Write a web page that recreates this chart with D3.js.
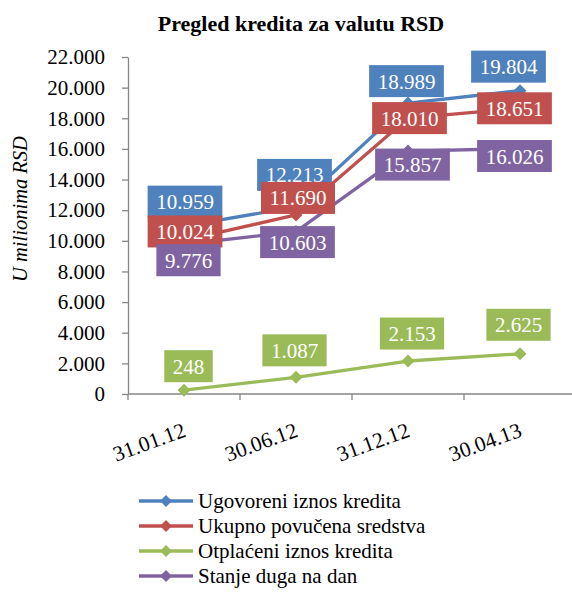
<!DOCTYPE html>
<html>
<head>
<meta charset="utf-8">
<script src="https://cdn.jsdelivr.net/npm/d3@7"></script>
<style>
  svg text { font-family: 'Liberation Serif' !important; }
</style>
</head>
<body style="margin:0">
<svg id="fig" width="572" height="598"></svg>
<script>
// Dates of each snapshot
const categories = ["31.01.12", "30.06.12", "31.12.12", "30.04.13"];

// Series values, in millions of RSD
const ugovoreni = [10959, 12213, 18989, 19804];
const povucena  = [10024, 11690, 18010, 18651];
const otplaceni = [248, 1087, 2153, 2625];
const stanje    = [9776, 10603, 15857, 16026];

const seriesNames = [
  "Ugovoreni iznos kredita",
  "Ukupno povučena sredstva",
  "Otplaćeni iznos kredita",
  "Stanje duga na dan"
];
const seriesValues = [ugovoreni, povucena, otplaceni, stanje];
const seriesColors = ["#4F81BD", "#C0504D", "#9BBB59", "#8064A2"];

// Y axis ticks
const yTicks = [0, 2000, 4000, 6000, 8000, 10000, 12000, 14000, 16000, 18000, 20000, 22000];

// Where each value label box sits relative to its point (centre offset, px)
const labelOffsets = [
  [[1, -24.5], [-1.5, -32], [-1.5, -22], [-11.5, -24]],
  [[1, -9], [2, -17], [1.5, 0], [-5.5, 0]],
  [[4.5, -24], [-1.5, -27], [4, -27.5], [-1.5, -29]],
  [[4.5, 16], [1.5, 10.5], [4.5, 13.5], [-5.5, 7.5]]
];

const FONT = "'Liberation Serif'";

const svg = d3.select("#fig");
const plotLeft = 128, plotRight = 576, plotTop = 57, plotBottom = 394;

const x = d3.scaleBand().domain(categories).range([plotLeft, plotRight]).padding(0);
const y = d3.scaleLinear().domain([0, 22000]).range([plotBottom, plotTop]);

const locale = d3.formatLocale({ decimal: ",", thousands: ".", grouping: [3], currency: ["", ""] });
const fmt = locale.format(",d");

const axisColor = "#868686";

// Title
svg.append("text")
  .attr("x", 301).attr("y", 31)
  .attr("text-anchor", "middle")
  .style("font-family", FONT)
  .style("font-weight", "bold")
  .attr("font-size", 22)
  .text("Pregled kredita za valutu RSD");

// Y axis title
svg.append("text")
  .attr("transform", "translate(27,209) rotate(-90)")
  .attr("text-anchor", "middle")
  .style("font-family", FONT)
  .style("font-style", "italic")
  .attr("font-size", 20.5)
  .text("U milionima RSD");

// Y axis
const yAxis = svg.append("g")
  .attr("transform", `translate(${plotLeft},0)`)
  .call(d3.axisLeft(y).tickValues(yTicks).tickFormat(fmt).tickSize(6).tickSizeOuter(0).tickPadding(17));
yAxis.attr("font-family", null).attr("font-size", null);
yAxis.select(".domain").attr("stroke", axisColor).attr("stroke-width", 1.3);
yAxis.selectAll(".tick line").attr("stroke", axisColor).attr("stroke-width", 1.3);
yAxis.selectAll(".tick text")
  .style("font-family", FONT)
  .attr("font-size", 21)
  .attr("fill", "#000");

// X axis (category boundaries as ticks)
const xg = svg.append("g");
xg.append("line")
  .attr("x1", plotLeft).attr("x2", plotRight)
  .attr("y1", plotBottom).attr("y2", plotBottom)
  .attr("stroke", axisColor).attr("stroke-width", 1.3);
xg.selectAll("line.tk")
  .data(categories)
  .join("line")
  .attr("class", "tk")
  .attr("x1", d => x(d)).attr("x2", d => x(d))
  .attr("y1", plotBottom).attr("y2", plotBottom + 6)
  .attr("stroke", axisColor).attr("stroke-width", 1.3);
xg.selectAll("text")
  .data(categories)
  .join("text")
  .attr("text-anchor", "end")
  .style("font-family", FONT)
  .attr("font-size", 21.5)
  .attr("transform", d => `translate(${x(d) + x.bandwidth() / 2 + 3},436) rotate(-20)`)
  .text(d => d);

const cx = d => x(d) + x.bandwidth() / 2;
const line = d3.line().x(d => cx(d.c)).y(d => y(d.v));
const diamond = d3.symbol().type(d3.symbolDiamond2).size(108);

// Lines and markers
seriesValues.forEach((vals, si) => {
  const pts = vals.map((v, i) => ({ c: categories[i], v }));
  const g = svg.append("g");
  g.append("path")
    .datum(pts)
    .attr("d", line)
    .attr("fill", "none")
    .attr("stroke", seriesColors[si])
    .attr("stroke-width", 3.3)
    .attr("stroke-linejoin", "round");
  g.selectAll("path.m")
    .data(pts)
    .join("path")
    .attr("class", "m")
    .attr("d", diamond)
    .attr("transform", d => `translate(${cx(d.c)},${y(d.v)})`)
    .attr("fill", seriesColors[si]);
});

// Value labels
seriesValues.forEach((vals, si) => {
  const g = svg.append("g");
  vals.forEach((v, i) => {
    const [dx, dy] = labelOffsets[si][i];
    const px = cx(categories[i]) + dx;
    const py = y(v) + dy;
    const t = g.append("text")
      .attr("x", px).attr("y", py + 7.5)
      .attr("text-anchor", "middle")
      .style("font-family", FONT)
      .attr("font-size", 21)
      .attr("fill", "#fff")
      .text(fmt(v));
    const w = t.node().getComputedTextLength() + 17;
    g.insert("rect", () => t.node())
      .attr("x", px - w / 2).attr("y", py - 16)
      .attr("width", w).attr("height", 32)
      .attr("fill", seriesColors[si]);
  });
});

// Legend
const legend = svg.append("g");
seriesNames.forEach((name, i) => {
  const ly = 501 + i * 25;
  legend.append("line")
    .attr("x1", 139).attr("x2", 193)
    .attr("y1", ly).attr("y2", ly)
    .attr("stroke", seriesColors[i]).attr("stroke-width", 3.5);
  legend.append("path")
    .attr("d", d3.symbol().type(d3.symbolDiamond2).size(90)())
    .attr("transform", `translate(166,${ly})`)
    .attr("fill", seriesColors[i]);
  legend.append("text")
    .attr("x", 198).attr("y", ly + 7)
    .style("font-family", FONT)
    .attr("font-size", 21)
    .text(name);
});
</script>
</body>
</html>
